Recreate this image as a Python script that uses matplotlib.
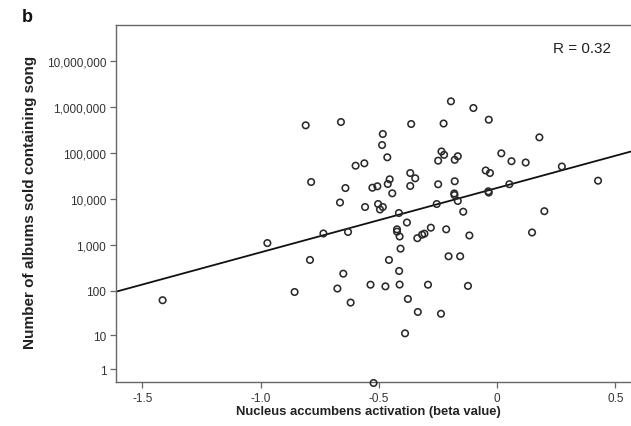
"""Scatter of nucleus accumbens activation vs album sales (panel b)"""
import numpy as np
import matplotlib
matplotlib.use("Agg")
import matplotlib.pyplot as plt
from matplotlib.ticker import FixedLocator, FixedFormatter

plt.rcParams["font.family"] = ["Liberation Sans", "DejaVu Sans"]

# Beta values
beta = [
    -1.414, -0.971, -0.856, -0.809, -0.791, -0.786, -0.734, -0.675, -0.664, -0.660,
    -0.650, -0.641, -0.630, -0.619, -0.598, -0.561, -0.558, -0.535, -0.527, -0.522,
    -0.506, -0.503, -0.495, -0.483, -0.483, -0.486, -0.464, -0.472, -0.457, -0.454,
    -0.462, -0.443, -0.415, -0.423, -0.423, -0.412, -0.408, -0.414, -0.412, -0.389,
    -0.381, -0.377, -0.367, -0.367, -0.363, -0.346, -0.337, -0.335, -0.317, -0.307,
    -0.292, -0.280, -0.255, -0.249, -0.249, -0.235, -0.226, -0.224, -0.237, -0.215,
    -0.205, -0.195, -0.179, -0.166, -0.179, -0.181, -0.180, -0.166, -0.156, -0.143,
    -0.123, -0.117, -0.100, -0.048, -0.030, -0.037, -0.035, -0.035, 0.018, 0.052,
    0.061, 0.121, 0.148, 0.179, 0.200, 0.274, 0.427,
]

# Albums sold containing the song
albums = [
    62, 1100, 94, 400000, 472, 23400, 1780, 112, 8390, 472000,
    237, 17300, 1920, 55, 53000, 59700, 6700, 136, 17600, 0,
    18900, 7780, 5920, 6700, 259000, 149000, 80700, 125, 472, 26800,
    21200, 13300, 4960, 2190, 1950, 1530, 831, 271, 137, 11,
    3080, 66, 36700, 19200, 427000, 28200, 1405, 34, 1675, 1762,
    136, 2377, 7780, 68100, 20900, 108000, 438000, 91400, 31, 2190,
    567, 1330000, 71100, 85100, 24300, 13200, 12200, 9060, 567, 5290,
    128, 1610, 951000, 41700, 36700, 14700, 13800, 530000, 98400, 21000,
    66400, 62100, 1870, 219000, 5430, 50900, 25000,
]

# Fit line (log10(albums + 1) = intercept + slope * beta)
fit_slope = 1.40
fit_intercept = 4.24
r_text = "R = 0.32"

y_ticks = [1, 10, 100, 1000, 10000, 100000, 1000000, 10000000]
y_tick_labels = ["1", "10", "100", "1,000", "10,000", "100,000", "1,000,000", "10,000,000"]
x_ticks = [-1.5, -1.0, -0.5, 0, 0.5]
x_tick_labels = ["-1.5", "-1.0", "-0.5", "0", "0.5"]


def fwd(v):
    return np.log10(np.maximum(v, 0) + 1)


def inv(v):
    return 10 ** v - 1


W, H = 631, 427
fig = plt.figure(figsize=(W / 100, H / 100), dpi=100)
left, right, top, bottom = 116, 634, 26, 383
ax = fig.add_axes([left / W, 1 - bottom / H, (right - left) / W, (bottom - top) / H])

ax.set_yscale("function", functions=(fwd, inv))
xmin, xmax = -1.611, 0.579
ax.set_xlim(xmin, xmax)
ax.set_ylim(0.05, 6.07e7)

# regression line
xs = np.linspace(xmin, xmax, 200)
ax.plot(xs, 10 ** (fit_intercept + fit_slope * xs) - 1, color="#111111", lw=1.3, zorder=2)

ax.scatter(beta, albums, s=22, facecolors="none", edgecolors="#2a2a2a",
           linewidths=1.15, zorder=3, clip_on=False)

ax.yaxis.set_major_locator(FixedLocator(y_ticks))
ax.yaxis.set_major_formatter(FixedFormatter(y_tick_labels))
ax.yaxis.set_minor_locator(FixedLocator([]))
ax.xaxis.set_major_locator(FixedLocator(x_ticks))
ax.xaxis.set_major_formatter(FixedFormatter(x_tick_labels))

for s in ax.spines.values():
    s.set_color("#666666")
    s.set_linewidth(1.0)
ax.tick_params(direction="out", length=4, width=0.9, color="#666666",
               labelsize=8.5, labelcolor="#333333", pad=3)

ax.set_xlabel("Nucleus accumbens activation (beta value)", fontsize=9.4,
              fontweight="bold", color="#222222")
ax.set_ylabel("Number of albums sold containing song", fontsize=11,
              fontweight="bold", color="#222222")
ax.xaxis.set_label_coords((368 - left) / (right - left), (bottom - 412) / (bottom - top))
ax.yaxis.set_label_coords((30 - left) / (right - left), (bottom - 202) / (bottom - top))
ax.xaxis.label.set_va("center")
ax.yaxis.label.set_va("center")

ax.text((582 - left) / (right - left), (bottom - 49) / (bottom - top), r_text,
        transform=ax.transAxes, ha="center", va="center", fontsize=11, color="#222222")
fig.text(27 / W, 1 - 18 / H, "b", fontsize=13, fontweight="bold",
         ha="center", va="center", color="#111111")

fig.savefig("out.png", dpi=100)
